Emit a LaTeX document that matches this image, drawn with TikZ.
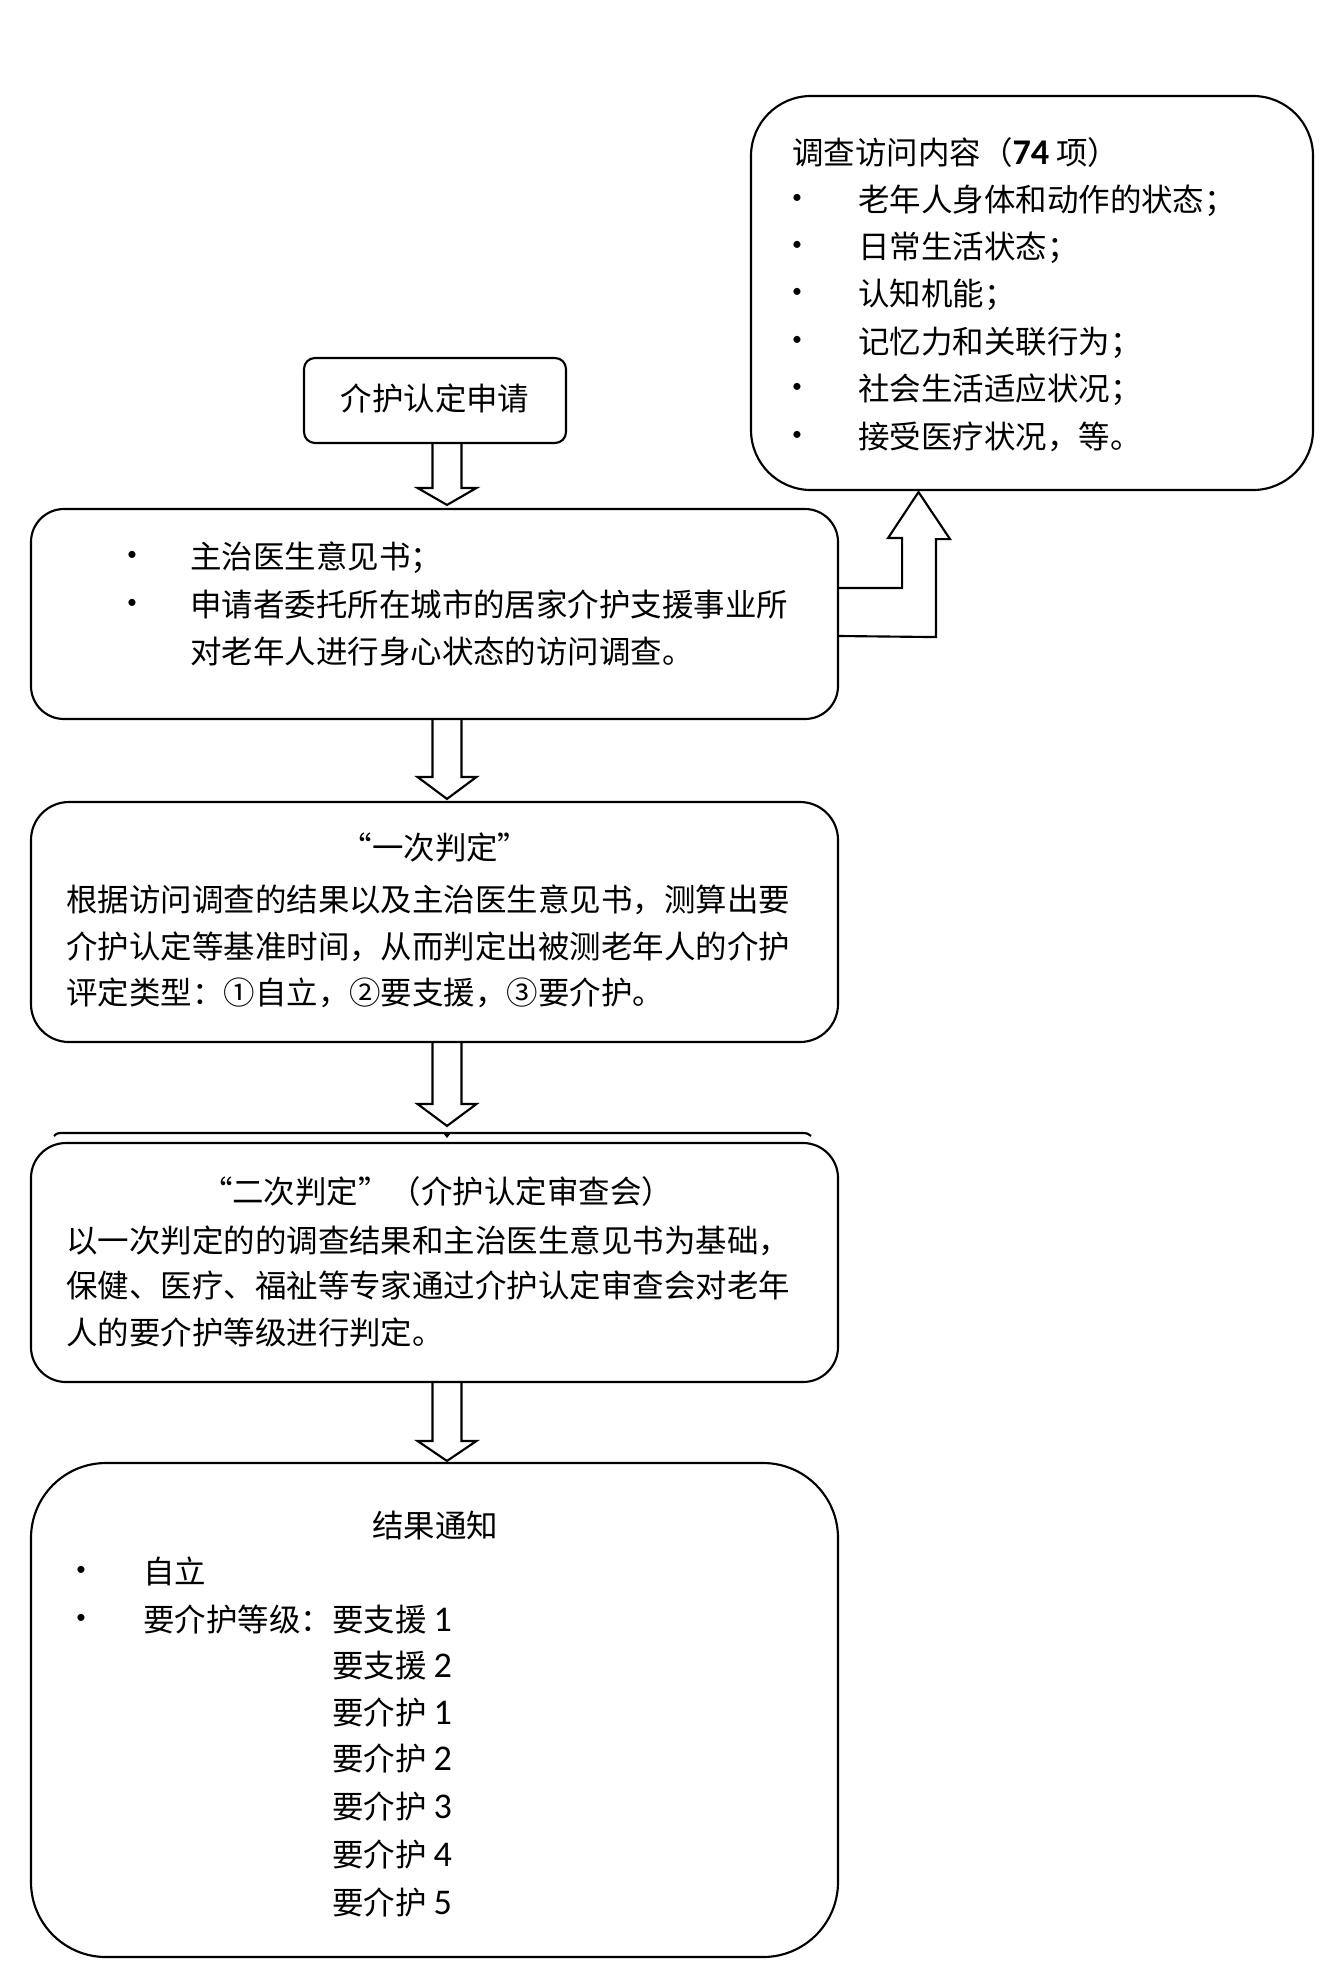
\documentclass[tikz,border=0pt]{standalone}
\usepackage{fontspec}
\setmainfont{Noto Sans CJK SC}
\newfontfamily\lat[Numbers=Lining,Scale=1.15]{Carlito}
\usetikzlibrary{calc}
\newdimen\px \px=0.75pt
\newcommand\downarr[3]{\draw[arr] ($(#1)+(-14.5,0)$) -- ($(#2)+(-14.5,-#3)$) -- ($(#2)+(-29.5,-#3)$) -- (#2) -- ($(#2)+(29.5,-#3)$) -- ($(#2)+(14.5,-#3)$) -- ($(#1)+(14.5,0)$);}
\begin{document}
\begin{tikzpicture}[x=0.75pt,y=-0.75pt,
  box/.style={draw, line width=1.6pt, fill=white, inner sep=0pt},
  arr/.style={draw, line width=1.6pt, line join=miter},
  txt/.style={anchor=base west, inner sep=0pt, font=\fontsize{23.6pt}{30pt}\selectfont},
  ctxt/.style={anchor=base, inner sep=0pt, font=\fontsize{23.6pt}{30pt}\selectfont},
  bul/.style={anchor=center, inner sep=0pt, font=\lat\fontsize{13pt}{13pt}\selectfont}]
\useasboundingbox (0,0) rectangle (1324,1974);
\fill[white] (0,0) rectangle (1324,1974);

% boxes
\node[box, minimum width=562\px, minimum height=394\px, rounded corners=60\px] (tr) at (1032,293) {};
\node[box, minimum width=262\px, minimum height=85\px, rounded corners=11\px] (b1) at (435,400.5) {};
\node[box, minimum width=807\px, minimum height=210\px, rounded corners=33\px] (b2) at (434.5,614) {};
\node[box, minimum width=807\px, minimum height=240\px, rounded corners=38\px] (b3) at (434.5,922) {};
\draw[line width=1.6pt] (54,1136) .. controls (57,1133) .. (66,1133) -- (800,1133) .. controls (807,1133) .. (811,1136);
\node[box, minimum width=807\px, minimum height=239\px, rounded corners=35\px] (b4) at (434.5,1262.5) {};
\node[box, minimum width=807\px, minimum height=494\px, rounded corners=75\px] (b5) at (434.5,1710) {};

% down arrows
\coordinate (a1s) at ($(b1.south)+(12,0)$);
\coordinate (a1e) at ($(b2.north)+(12.5,-3)$);
\downarr{a1s}{a1e}{17}
\coordinate (a2s) at ($(b2.south)+(12.5,0)$);
\coordinate (a2e) at ($(b3.north)+(12.5,-2)$);
\downarr{a2s}{a2e}{22}
\coordinate (a3s) at ($(b3.south)+(12.5,0)$);
\coordinate (a3e) at ($(b4.north)+(12.5,-16)$);
\downarr{a3s}{a3e}{22}
\fill ($(b4.north)+(8.5,-9)$) -- ($(b4.north)+(16.5,-9)$) -- ($(b4.north)+(12.5,-4)$) -- cycle;
\coordinate (a4s) at ($(b4.south)+(12.5,0)$);
\coordinate (a4e) at ($(b5.north)+(12.5,-1)$);
\downarr{a4s}{a4e}{20}

% right branching arrow
\coordinate (rt) at ($(tr.south)+(-113.5,1)$);
\draw[arr] ($(b2.east)+(0,-26)$) -- ++(63,0) -- ++(0,-50) -- ++(-14,0) -- (rt) -- ++(31.5,47) -- ++(-14,0) -- ++(0,98) -- ($(b2.east)+(0,22)$);

% texts: top right
\node[txt] (t0) at (792,164) {调查访问内容（{\lat\bfseries 74} 项）};
\foreach \yy/\tt in {199/老年人身体和动作的状态；, 246/日常生活状态；, 293/认知机能；, 341/记忆力和关联行为；, 388/社会生活适应状况；, 436/接受医疗状况，等。}{
  \node[bul] at (797,\yy) {•};
  \node[txt] at (858,\yy+12) {\tt};
}

% box 1
\node[ctxt] (t1) at (435,410) {介护认定申请};

% box 2
\node[bul] at (132,556) {•};
\node[bul] at (132,604) {•};
\node[txt] at (190,568) {主治医生意见书；};
\node[txt] at (190,616) {申请者委托所在城市的居家介护支援事业所};
\node[txt] at (190,663) {对老年人进行身心状态的访问调查。};

% box 3
\node[ctxt] at (435,859) {“一次判定”};
\node[txt] at (66,911) {根据访问调查的结果以及主治医生意见书，测算出要};
\node[txt] at (66,958) {介护认定等基准时间，从而判定出被测老年人的介护};
\node[txt] at (66,1004) {评定类型：①自立，②要支援，③要介护。};

% box 4
\node[ctxt] at (437,1203) {“二次判定”（介护认定审查会）};
\node[txt] at (66,1252) {以一次判定的的调查结果和主治医生意见书为基础，};
\node[txt] at (66,1297) {保健、医疗、福祉等专家通过介护认定审查会对老年};
\node[txt] at (66,1344) {人的要介护等级进行判定。};

% box 5
\node[ctxt] at (435,1537) {结果通知};
\node[bul] at (81,1571) {•};
\node[bul] at (81,1619) {•};
\node[txt] at (143,1583) {自立};
\node[txt] at (143,1631) {要介护等级：要支援 {\lat 1}};
\node[txt] at (332,1677) {要支援 {\lat 2}};
\node[txt] at (332,1724) {要介护 {\lat 1}};
\node[txt] at (332,1770) {要介护 {\lat 2}};
\node[txt] at (332,1818) {要介护 {\lat 3}};
\node[txt] at (332,1866) {要介护 {\lat 4}};
\node[txt] at (332,1914) {要介护 {\lat 5}};
\end{tikzpicture}
\end{document}
